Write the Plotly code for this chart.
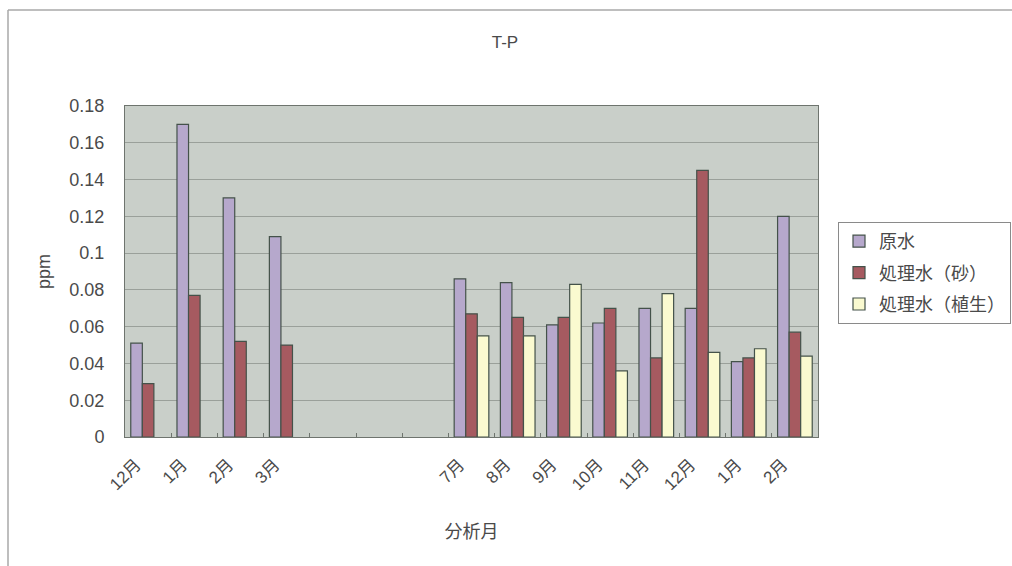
import plotly.graph_objects as go

# Sampling months (three blank slots stand for months with no data)
months = ["12月", "1月", "2月", "3月", "", "", "", "7月", "8月", "9月", "10月", "11月", "12月", "1月", "2月"]

# T-P concentrations in ppm
raw_water = [0.051, 0.170, 0.130, 0.109, None, None, None, 0.086, 0.084, 0.061, 0.062, 0.070, 0.070, 0.041, 0.120]
treated_sand = [0.029, 0.077, 0.052, 0.050, None, None, None, 0.067, 0.065, 0.065, 0.070, 0.043, 0.145, 0.043, 0.057]
treated_plant = [None, None, None, None, None, None, None, 0.055, 0.055, 0.083, 0.036, 0.078, 0.046, 0.048, 0.044]

y_ticks = [0, 0.02, 0.04, 0.06, 0.08, 0.1, 0.12, 0.14, 0.16, 0.18]
y_tick_text = ["0", "0.02", "0.04", "0.06", "0.08", "0.1", "0.12", "0.14", "0.16", "0.18"]

series = [
    ("原水", raw_water, "#b6a8cc"),
    ("処理水（砂）", treated_sand, "#a65a60"),
    ("処理水（植生）", treated_plant, "#fafad0"),
]

FONT = "Liberation Sans, Noto Sans CJK JP, sans-serif"
TEXT = "#4a4a4a"

positions = list(range(len(months)))

fig = go.Figure()
for name, values, color in series:
    fig.add_trace(go.Bar(
        x=positions,
        y=values,
        name=name,
        legendgroup=name,
        marker=dict(color=color, line=dict(color="#44524a", width=1.2)),
    ))

W, H = 1012, 566
L, R, T, B = 125, 194, 106, 129
pw, ph = W - L - R, H - T - B

def px_x(p):
    return (p - L) / pw

def px_y(p):
    return (H - B - p) / ph

fig.update_layout(
    width=W,
    height=H,
    margin=dict(l=L, r=R, t=T, b=B, autoexpand=False),
    paper_bgcolor="white",
    plot_bgcolor="#c9cfc9",
    barmode="group",
    bargap=0.25,
    bargroupgap=0,
    font=dict(family=FONT, color=TEXT, size=17),
    title=dict(text="T-P", x=px_x(505), xref="paper", xanchor="center",
               y=1 - 42 / H, yanchor="middle", font=dict(size=17, color=TEXT)),
    legend=dict(
        x=px_x(838), y=px_y(222), xanchor="left", yanchor="top",
        bgcolor="white", bordercolor="#8a8a8a", borderwidth=1,
        font=dict(size=18, color=TEXT), itemwidth=30, tracegroupgap=5,
    ),
    showlegend=True,
)

fig.update_xaxes(
    range=[-0.5, len(months) - 0.5],
    tickmode="array",
    tickvals=positions,
    ticktext=months,
    tickangle=-45,
    ticks="",
    tickfont=dict(size=17, color=TEXT),
    ticklabelshift=-12,
    ticklabelstandoff=10,
    showgrid=False,
    zeroline=False,
    showline=True,
    linecolor="#6e746e",
    linewidth=1,
    mirror=True,
    minor=dict(tickvals=[p + 0.5 for p in positions[:-1]], ticks="inside",
               ticklen=4, tickcolor="#6e746e", showgrid=False),
    title=dict(text="分析月", font=dict(size=18, color=TEXT), standoff=32),
)

fig.update_yaxes(
    range=[0, 0.18],
    tickmode="array",
    tickvals=y_ticks,
    ticktext=y_tick_text,
    tickfont=dict(size=18, color=TEXT),
    ticks="",
    ticklabelstandoff=16,
    showgrid=True,
    gridcolor="#9aa09a",
    gridwidth=1,
    zeroline=False,
    showline=True,
    linecolor="#6e746e",
    linewidth=1,
    mirror=True,
    title=dict(text="ppm", font=dict(size=18, color=TEXT), standoff=14),
)

# Outer frame of the chart sheet (top and left edges)
fig.add_shape(type="line", xref="paper", yref="paper",
              x0=px_x(8), x1=px_x(W + 5), y0=px_y(10), y1=px_y(10),
              line=dict(color="#a8a8a8", width=1.5))
fig.add_shape(type="line", xref="paper", yref="paper",
              x0=px_x(8), x1=px_x(8), y0=px_y(10), y1=px_y(H + 5),
              line=dict(color="#a8a8a8", width=1.5))

fig.write_html("out.html")
